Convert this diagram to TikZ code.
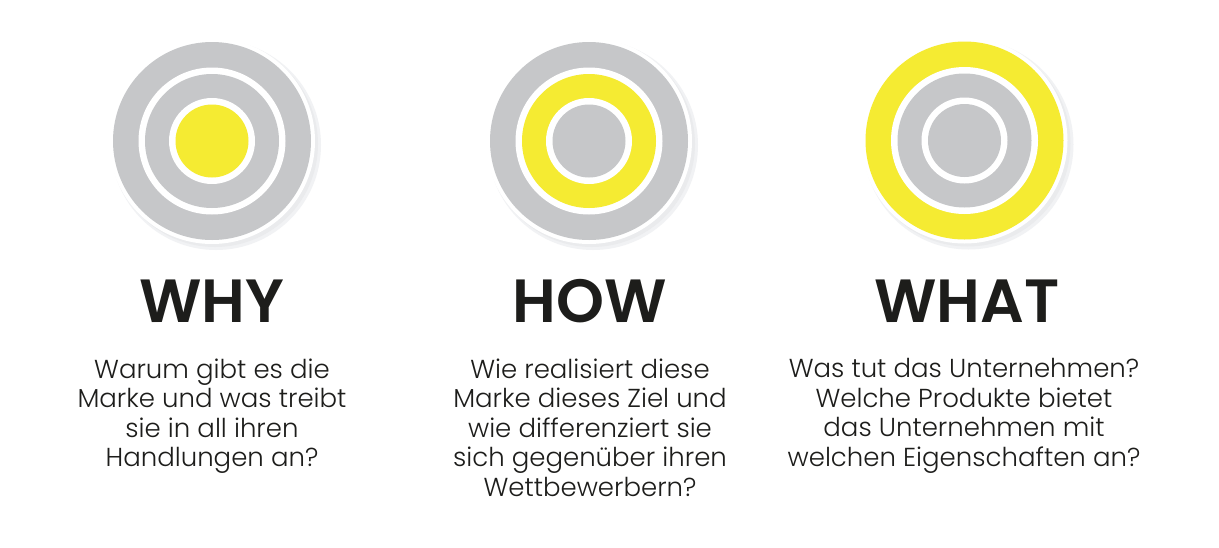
\documentclass[tikz,border=0pt]{standalone}
\usepackage{fontspec}
\setmainfont{Poppins}
\newfontfamily\bodyfont{Poppins Light}
\newfontfamily\headfont{Poppins SemiBold}
\definecolor{ringgray}{HTML}{C6C7C9}
\definecolor{ringyellow}{HTML}{F5EB32}
\definecolor{shadowgray}{HTML}{F1F2F4}
\definecolor{shadowgraydark}{HTML}{EAEBED}
\definecolor{inktext}{HTML}{1D1D1B}
\tikzset{
  disc/.style={circle, inner sep=0pt, outer sep=0pt, draw=none, minimum size=#1},
  head/.style={text=inktext, font=\headfont\fontsize{61}{64}\selectfont, inner sep=0pt, anchor=base},
  body/.style={text=inktext, font=\bodyfont\fontsize{26}{29.5}\selectfont, align=center, inner sep=0pt, anchor=north}
}
\newcommand{\targetdisc}[6]{%
  % #1 name, #2 x, #3 y, #4 outer colour, #5 middle colour, #6 inner colour
  \node[disc=210pt, fill=shadowgray] (#1-shadow) at (#2+4,#3+4) {};
  \node[disc=206pt, fill=shadowgraydark] (#1-shadowcore) at (#2+3,#3+3) {};
  \node[disc=206pt, fill=white] (#1-rim) at (#2,#3) {};
  \node[disc=198pt, fill=#4] (#1-outer) at (#2,#3) {};
  \node[disc=147pt, fill=white] (#1-gap1) at (#2,#3) {};
  \node[disc=134pt, fill=#5] (#1-middle) at (#2,#3) {};
  \node[disc=86pt, fill=white] (#1-gap2) at (#2,#3) {};
  \node[disc=73pt, fill=#6] (#1-inner) at (#2,#3) {};
}
\begin{document}
\begin{tikzpicture}[x=1pt,y=-1pt]
\useasboundingbox[fill=white] (0,0) rectangle (1219,547);
\targetdisc{why}{212}{141}{ringgray}{ringgray}{ringyellow}
\targetdisc{how}{589}{141}{ringgray}{ringyellow}{ringgray}
\targetdisc{what}{964.5}{140.5}{ringyellow}{ringgray}{ringgray}

\node[head] (why-title) at (212,322) {WHY};
\node[head] (how-title) at (590,322) {HOW};
\node[head] (what-title) at (967,322) {WHAT};

\node[body] (why-text) at (212,358.5) {Warum gibt es die\\Marke und was treibt\\sie in all ihren\\Handlungen an?};
\node[body] (how-text) at (590,358.5) {Wie realisiert diese\\Marke dieses Ziel und\\wie differenziert sie\\sich gegenüber ihren\\Wettbewerbern?};
\node[body] (what-text) at (964,358.5) {Was tut das Unternehmen?\\Welche Produkte bietet\\das Unternehmen mit\\welchen Eigenschaften an?};
\end{tikzpicture}
\end{document}
